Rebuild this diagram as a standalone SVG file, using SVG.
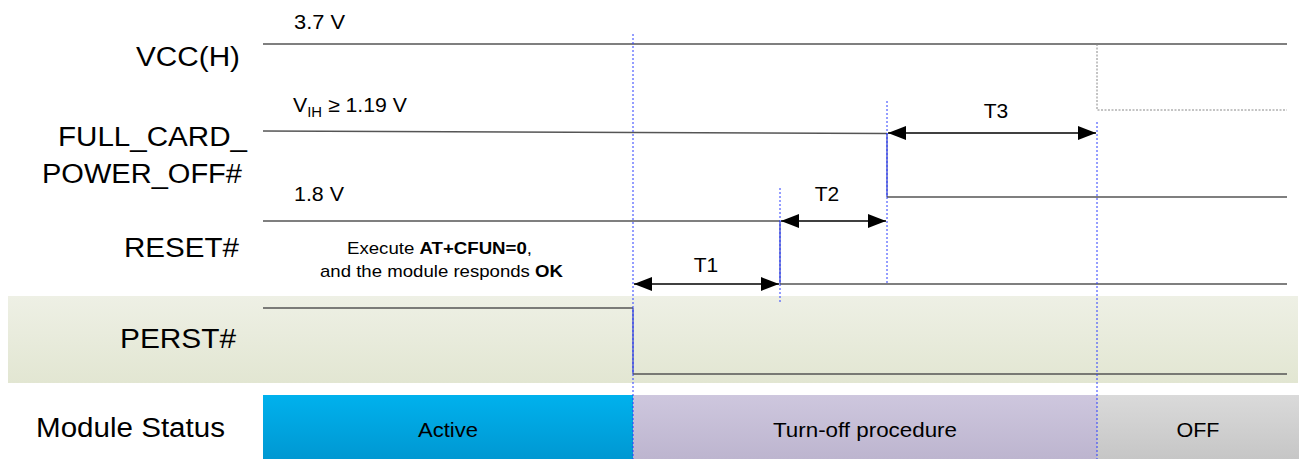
<svg xmlns="http://www.w3.org/2000/svg" width="1303" height="459" viewBox="0 0 1303 459">
  <style>
    .lbl { font-family: "Liberation Sans", Arial, sans-serif; font-size: 27px; fill: #000; }
    .val { font-family: "Liberation Sans", Arial, sans-serif; font-size: 20px; fill: #000; }
    .note { font-family: "Liberation Sans", Arial, sans-serif; font-size: 17px; fill: #000; }
    .tm { font-family: "Liberation Sans", Arial, sans-serif; font-size: 21px; fill: #000; }
    .st { font-family: "Liberation Sans", Arial, sans-serif; font-size: 21px; fill: #000; }
    .sig { stroke: #555; stroke-width: 1.5; fill: none; }
    .edge { stroke: #3a46c8; stroke-width: 1.3; fill: none; }
    .guide { stroke: #2a3cff; stroke-width: 1; stroke-dasharray: 2 2; fill: none; }
    .gray { stroke: #888; stroke-width: 1; stroke-dasharray: 2 1.5; fill: none; }
    .dim { stroke: #000; stroke-width: 1.5; fill: none; }
  </style>
  <defs>
    <linearGradient id="gBand" x1="0" y1="0" x2="0" y2="1">
      <stop offset="0" stop-color="#eef0e5"/>
      <stop offset="1" stop-color="#e2e6d2"/>
    </linearGradient>
    <linearGradient id="gActive" x1="0" y1="0" x2="0" y2="1">
      <stop offset="0" stop-color="#00b1ed"/>
      <stop offset="1" stop-color="#0098d2"/>
    </linearGradient>
    <linearGradient id="gTurn" x1="0" y1="0" x2="0" y2="1">
      <stop offset="0" stop-color="#cec7de"/>
      <stop offset="1" stop-color="#bdb5cf"/>
    </linearGradient>
    <linearGradient id="gOff" x1="0" y1="0" x2="0" y2="1">
      <stop offset="0" stop-color="#dadada"/>
      <stop offset="1" stop-color="#c6c6c6"/>
    </linearGradient>
    <marker id="arr" viewBox="0 0 18 14" refX="18" refY="7" markerWidth="18" markerHeight="14" markerUnits="userSpaceOnUse" orient="auto-start-reverse">
      <path d="M0,0 L18,7 L0,14 Z" fill="#000"/>
    </marker>
  </defs>

  <!-- PERST# background band -->
  <rect x="8" y="296" width="1290" height="87" fill="url(#gBand)"/>

  <!-- signal names -->
  <g id="labels">
    <text class="lbl" x="136" y="66" textLength="104" lengthAdjust="spacingAndGlyphs">VCC(H)</text>
    <text class="lbl" x="58" y="146" textLength="189" lengthAdjust="spacingAndGlyphs">FULL_CARD_</text>
    <text class="lbl" x="42" y="183" textLength="200" lengthAdjust="spacingAndGlyphs">POWER_OFF#</text>
    <text class="lbl" x="124" y="257" textLength="115" lengthAdjust="spacingAndGlyphs">RESET#</text>
    <text class="lbl" x="120" y="348" textLength="116" lengthAdjust="spacingAndGlyphs">PERST#</text>
    <text class="lbl" x="36" y="437" textLength="189" lengthAdjust="spacingAndGlyphs">Module Status</text>
  </g>

  <!-- module status bar -->
  <g id="status-active">
    <rect x="263" y="395" width="370" height="64" fill="url(#gActive)"/>
    <text class="st" x="448" y="437" text-anchor="middle" textLength="60" lengthAdjust="spacingAndGlyphs">Active</text>
  </g>
  <g id="status-turnoff">
    <rect x="633" y="395" width="464" height="64" fill="url(#gTurn)"/>
    <text class="st" x="865" y="437" text-anchor="middle" textLength="184" lengthAdjust="spacingAndGlyphs">Turn-off procedure</text>
  </g>
  <g id="status-off">
    <rect x="1097" y="395" width="202" height="64" fill="url(#gOff)"/>
    <text class="st" x="1198" y="437" text-anchor="middle" textLength="43" lengthAdjust="spacingAndGlyphs">OFF</text>
  </g>

  <!-- waveforms -->
  <g id="vcc">
    <line class="sig" x1="263" y1="44" x2="1287" y2="44"/>
    <path class="gray" d="M1097,44 V110 H1287"/>
    <text class="val" x="294" y="29" textLength="51" lengthAdjust="spacingAndGlyphs">3.7 V</text>
  </g>
  <g id="full-card-power-off">
    <path class="sig" d="M263,131 L887,133.5"/>
    <line class="edge" x1="887" y1="133" x2="887" y2="197"/>
    <line class="sig" x1="887" y1="197" x2="1287" y2="197"/>
    <text class="val" x="293" y="112" textLength="114" lengthAdjust="spacingAndGlyphs">V<tspan font-size="14" dy="5">IH</tspan><tspan dy="-5"> ≥ 1.19 V</tspan></text>
  </g>
  <g id="reset">
    <line class="sig" x1="263" y1="221" x2="780" y2="221"/>
    <line class="edge" x1="780" y1="221" x2="780" y2="284"/>
    <line class="sig" x1="780" y1="284" x2="1287" y2="284"/>
    <text class="val" x="294" y="201" textLength="50" lengthAdjust="spacingAndGlyphs">1.8 V</text>
    <text class="note" x="347" y="254" textLength="185" lengthAdjust="spacingAndGlyphs">Execute <tspan font-weight="bold">AT+CFUN=0</tspan>,</text>
    <text class="note" x="320" y="277" textLength="243" lengthAdjust="spacingAndGlyphs">and the module responds <tspan font-weight="bold">OK</tspan></text>
  </g>
  <g id="perst">
    <line class="sig" x1="263" y1="308" x2="633" y2="308"/>
    <line class="edge" x1="633" y1="308" x2="633" y2="374"/>
    <line class="sig" x1="633" y1="374" x2="1287" y2="374"/>
  </g>

  <!-- timing guides and intervals -->
  <g id="connectors">
    <line class="guide" x1="633" y1="34" x2="633" y2="459"/>
    <line class="guide" x1="780" y1="188" x2="780" y2="303"/>
    <line class="guide" x1="887" y1="101" x2="887" y2="284"/>
    <line class="guide" x1="1097" y1="122" x2="1097" y2="459"/>
    <line class="dim" x1="634" y1="284" x2="779" y2="284" marker-start="url(#arr)" marker-end="url(#arr)"/>
    <line class="dim" x1="781" y1="221" x2="886" y2="221" marker-start="url(#arr)" marker-end="url(#arr)"/>
    <line class="dim" x1="888" y1="133" x2="1096" y2="133" marker-start="url(#arr)" marker-end="url(#arr)"/>
  </g>
  <g id="t1"><text class="tm" x="706" y="272" text-anchor="middle">T1</text></g>
  <g id="t2"><text class="tm" x="827" y="201" text-anchor="middle">T2</text></g>
  <g id="t3"><text class="tm" x="996" y="118" text-anchor="middle">T3</text></g>
</svg>
